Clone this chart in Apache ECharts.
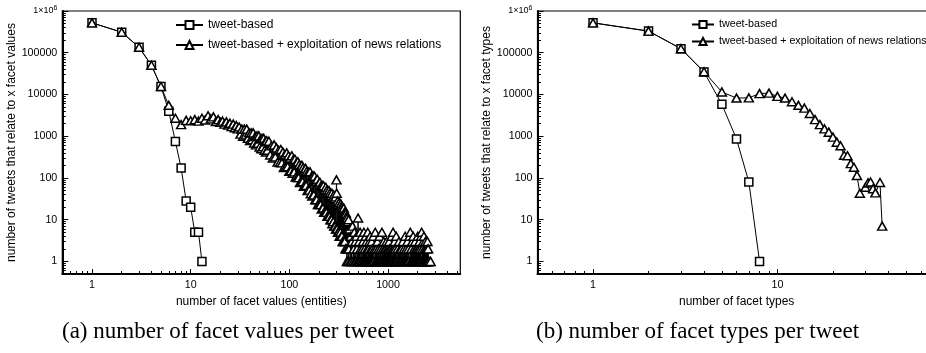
<!DOCTYPE html>
<html>
<head>
<meta charset="utf-8">
<script src="https://cdn.jsdelivr.net/npm/echarts@6/dist/echarts.min.js"></script>
<style>
  html, body { margin: 0; padding: 0; background: #fff; overflow: hidden; }
  /* the right panel runs past the picture's right edge, as in the source figure */
  #chart { width: 970px; height: 353px; }
</style>
</head>
<body>
<div id="chart"></div>
<script>
// (a) number of facet values per tweet
const valuesTweetX = [1, 2, 3, 4, 5, 6, 7, 8, 9, 10, 11, 12, 13];
const valuesTweetY = [520000, 310000, 135000, 50000, 15500, 3950, 750, 173, 28, 20, 5, 5, 1];
// head + plateau
const valuesNewsHead = [
  [1,520000],[2,310000],[3,135000],[4,50000],[5,15500],[6,5500],[7,2700],[8,1900],[9,2400],[10,2350],
  [11,2500],[12,2300],[13,2700],[14,2450],[15,3100],[16,2600],[17,2900],[18,2250],[19,2500],[20,2150],
  [21,2300],[22,1950],[23,2200],[24,1850],[25,2050],[26,1700],[27,1950],[28,1600],[29,1800],[30,1500],
  [31,1660],[32,1120],[33,1480],[34,1000],[35,1480],[36,1070],[37,1480],[38,890],[39,1200],[40,790],
  [41,1200],[42,830],[43,1200],[44,690],[45,980],[46,620],[47,1020],[48,680],[49,1020],[50,550],
  [51,850],[52,500],[53,890],[54,560],[55,890],[56,460],[57,740],[58,420],[59,780],[60,460]
];
// falling part
const valuesNewsMid = [
  [62,760],[64,355],[66,590],[68,300],[70,620],[72,320],[74,525],[76,240],[78,460],[80,235],
  [82,480],[84,230],[86,415],[88,178],[90,365],[92,182],[94,400],[96,186],[98,340],[100,145],
  [102,300],[104,150],[106,340],[108,130],[110,280],[112,140],[114,280],[116,105],[118,235],[120,102],
  [122,245],[124,102],[126,210],[128,78],[130,186],[132,81],[134,200],[136,81],[138,178],[140,63],
  [142,155],[144,66],[146,170],[148,66],[150,145],[153,50],[156,138],[159,51],[162,141],[165,42],
  [168,110],[171,37],[174,112],[177,39],[180,110],[183,30],[186,85],[189,30],[192,93],[195,23],
  [198,72],[201,23],[204,79],[207,23],[210,66],[213,18],[216,66],[219,19],[222,65],[225,15],
  [228,52],[231,15],[234,60],[237,15],[240,51],[243,12],[246,45],[249,12],[252,50],[255,12],
  [258,44],[261,10],[264,38],[267,10],[270,43],[273,8],[276,35],[279,9],[282,39],[285,7],
  [288,32],[291,7],[294,35],[297,6],[300,90],[302,43],[305,6],[308,28],[311,5],[314,23],
  [317,5],[320,26],[323,4],[326,22],[329,5],[332,24],[335,4],[338,21],[341,4],[344,20],
  [347,3],[350,18],[353,3],[356,19],[359,3],[362,15],[365,3],[368,15],[371,2],[374,14],
  [377,2],[380,12],[383,1],[386,11],[389,2],[392,9],[395,1],[398,10]
];
// noisy tail of small counts
const valuesNewsTail = [
  [401,2],[407,6],[413,1],[419,4],[425,1],[431,3],[437,7],[443,1],[449,2],[455,5],
  [461,1],[467,3],[473,1],[479,4],[485,2],[491,1],[497,11],[503,1],[509,3],[515,1],
  [521,5],[527,2],[533,1],[539,4],[545,1],[551,2],[557,3],[563,1],[569,5],[575,1],
  [581,2],[587,1],[593,4],[599,1],[605,3],[611,1],[617,2],[623,5],[629,1],[635,2],
  [641,1],[647,3],[653,1],[659,4],[665,1],[671,2],[677,1],[683,3],[689,1],[695,2],
  [700,1],[710,4],[720,1],[730,2],[742,5],[750,1],[760,2],[770,1],[780,3],[790,1],
  [800,2],[810,1],[820,4],[830,1],[840,2],[850,1],[867,5],[875,1],[885,2],[895,1],
  [905,3],[915,1],[925,2],[935,1],[945,2],[955,1],[965,3],[975,1],[985,2],[995,1],
  [1005,2],[1015,1],[1025,3],[1035,1],[1045,2],[1055,1],[1065,2],[1075,1],[1090,4],[1100,1],
  [1110,2],[1125,5],[1135,1],[1145,2],[1155,1],[1165,3],[1175,1],[1185,2],[1195,1],[1210,4],
  [1230,1],[1250,2],[1270,1],[1290,3],[1310,1],[1330,2],[1350,1],[1370,2],[1390,1],[1410,3],
  [1430,1],[1450,2],[1470,1],[1490,4],[1510,1],[1530,2],[1550,1],[1570,3],[1590,1],[1610,2],
  [1630,1],[1650,4],[1680,5],[1700,1],[1720,2],[1740,1],[1760,3],[1780,1],[1800,4],[1820,1],
  [1840,2],[1860,1],[1880,3],[1900,1],[1920,2],[1940,1],[1960,2],[1980,1],[2000,4],[2020,1],
  [2040,2],[2060,1],[2080,3],[2100,1],[2120,2],[2140,1],[2160,4],[2190,5],[2210,1],[2230,2],
  [2250,1],[2270,3],[2290,1],[2310,4],[2330,1],[2350,2],[2370,1],[2390,3],[2410,1],[2430,2],
  [2450,1],[2470,2],[2490,1],[2510,3],[2530,1],[2550,2],[2570,1],[2600,1],[2700,1]
];

// (b) number of facet types per tweet
const typesTweetX = [1, 2, 3, 4, 5, 6, 7, 8];
const typesTweetY = [520000, 330000, 125000, 34500, 5800, 860, 80, 1];
const typesNews = [
  [1,520000],[2,330000],[3,125000],[4,35000],[5,11500],[6,8200],[7,8300],[8,10500],[9,10800],[10,9000],
  [11,8200],[12,6700],[13,5500],[14,4700],[15,3500],[16,2500],[17,1900],[18,1500],[19,1250],[20,950],
  [21,720],[22,590],[23,350],[24,340],[25,220],[26,180],[27,115],[28,43],[30,60],[31,76],
  [32,80],[33,55],[34,44],[36,78],[37,7]
];

const yTicks = [1, 10, 100, 1000, 10000, 100000, 1000000];
const valuesXTicks = [1, 10, 100, 1000];
const typesXTicks = [1, 10];

const NAME_TWEET = 'tweet-based';
const NAME_NEWS = 'tweet-based + exploitation of news relations';
const SANS = '"Liberation Sans", Arial, sans-serif';

// 2..9 inside every decade
function minorTicks(lo, hi) {
  const out = [];
  for (let e = -1; e <= 6; e++) {
    for (let k = 2; k <= 9; k++) {
      const v = k * Math.pow(10, e);
      if (v > lo && v < hi) out.push(v);
    }
  }
  return out;
}

function xAxes(gridIndex, min, max, ticks, name, shift) {
  return [{
    type: 'log', logBase: 10, gridIndex, min, max,
    name, nameLocation: 'middle', nameGap: 14,
    nameTextStyle: { color: '#000', fontSize: 12, fontFamily: SANS, padding: [0, shift, 0, 0] },
    axisLine: { lineStyle: { color: '#000', width: 2 } },
    axisTick: { inside: true, length: 5, customValues: ticks, lineStyle: { color: '#000' } },
    axisLabel: { customValues: ticks, margin: 6, color: '#000', fontSize: 10.7, fontFamily: SANS,
      formatter: v => String(Math.round(v)) },
    splitLine: { show: false }
  }, {
    type: 'log', logBase: 10, gridIndex, min, max, position: 'bottom',
    axisLine: { show: false }, axisLabel: { show: false }, splitLine: { show: false },
    axisTick: { inside: true, length: 3, customValues: minorTicks(min, max), lineStyle: { color: '#000' } }
  }];
}

function yAxes(gridIndex, name, nameGap) {
  const min = 0.5, max = 1000000;
  return [{
    type: 'log', logBase: 10, gridIndex, min, max, position: 'left',
    name, nameLocation: 'middle', nameGap,
    nameTextStyle: { color: '#000', fontSize: 12, fontFamily: SANS },
    axisLine: { lineStyle: { color: '#000', width: 2 } },
    axisTick: { inside: true, length: 6, customValues: yTicks, lineStyle: { color: '#000' } },
    axisLabel: {
      customValues: yTicks, margin: 5, color: '#000', fontSize: 10.7, fontFamily: SANS,
      formatter: v => {
        const r = Math.round(v);
        return r === 1000000 ? '{m|1×10}{s|6}' : String(r);
      },
      rich: {
        m: { fontSize: 9, fontFamily: SANS, color: '#000' },
        s: { fontSize: 7, fontFamily: SANS, color: '#000', padding: [0, 0, 6, 0] }
      }
    },
    splitLine: { show: false }
  }, {
    type: 'log', logBase: 10, gridIndex, min, max, position: 'left',
    axisLine: { show: false }, axisLabel: { show: false }, splitLine: { show: false },
    axisTick: { inside: true, length: 3.5, customValues: minorTicks(min, max), lineStyle: { color: '#000' } }
  }];
}

function series(name, data, xi, yi, symbol, size) {
  return {
    name, type: 'line', data, xAxisIndex: xi, yAxisIndex: yi,
    symbol, symbolSize: size, showSymbol: true,
    lineStyle: { color: '#000', width: 1 },
    itemStyle: { color: '#fff', borderColor: '#000', borderWidth: 1.5 },
    emphasis: { disabled: true },
    clip: true
  };
}

const zip = (xs, ys) => xs.map((x, i) => [x, ys[i]]);

const chart = echarts.init(document.getElementById('chart'), null, { renderer: 'canvas' });
chart.setOption({
  animation: false,
  backgroundColor: '#fff',
  grid: [
    { left: 62.3, top: 11, width: 398, height: 263, show: true, borderColor: '#000', borderWidth: 1.2 },
    { left: 537.5, top: 11, width: 424.3, height: 263, show: true, borderColor: '#000', borderWidth: 1.2 }
  ],
  xAxis: [
    ...xAxes(0, 0.5, 5400, valuesXTicks, 'number of facet values (entities)', 0),
    ...xAxes(1, 0.5, 100, typesXTicks, 'number of facet types', 26)
  ],
  yAxis: [
    ...yAxes(0, 'number of tweets that relate to x facet values', 35),
    ...yAxes(1, 'number of tweets that relate to x facet types', 29)
  ],
  legend: [
    { left: 170, top: 14, orient: 'vertical', itemWidth: 27, itemHeight: 10, itemGap: 8,
      textStyle: { color: '#000', fontSize: 12, fontFamily: SANS }, data: [NAME_TWEET, NAME_NEWS] },
    { left: 686, top: 14, orient: 'vertical', itemWidth: 22, itemHeight: 9, itemGap: 6,
      textStyle: { color: '#000', fontSize: 10.7, fontFamily: SANS }, data: [NAME_TWEET, NAME_NEWS] }
  ],
  graphic: [
    { type: 'text', left: 62, top: 320,
      style: { text: '(a) number of facet values per tweet', font: '23px "Liberation Serif", serif', fill: '#000' } },
    { type: 'text', left: 536, top: 320,
      style: { text: '(b) number of facet types per tweet', font: '23px "Liberation Serif", serif', fill: '#000' } }
  ],
  series: [
    series(NAME_TWEET, zip(valuesTweetX, valuesTweetY), 0, 0, 'rect', 8),
    series(NAME_NEWS, [...valuesNewsHead, ...valuesNewsMid, ...valuesNewsTail], 0, 0, 'triangle', [9, 8]),
    series(NAME_TWEET, zip(typesTweetX, typesTweetY), 2, 2, 'rect', 8),
    series(NAME_NEWS, typesNews, 2, 2, 'triangle', [9, 8])
  ]
});
</script>
</body>
</html>
